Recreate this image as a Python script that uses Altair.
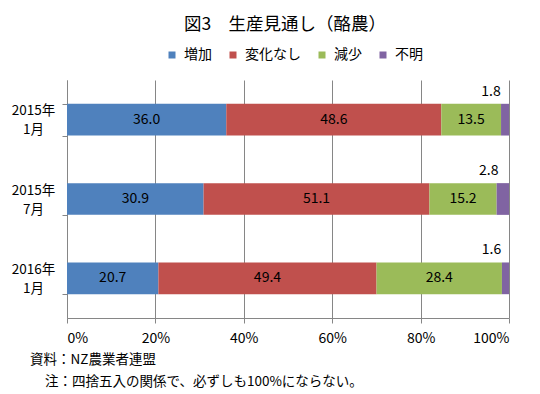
import altair as alt
import pandas as pd

categories = ["2015年\n1月", "2015年\n7月", "2016年\n1月"]
series = ["増加", "変化なし", "減少", "不明"]
colors = ["#4F81BD", "#C0504D", "#9BBB59", "#8064A2"]
increase = [36.0, 30.9, 20.7]
unchanged = [48.6, 51.1, 49.4]
decrease = [13.5, 15.2, 28.4]
unknown = [1.8, 2.8, 1.6]
x_ticks = [0, 0.2, 0.4, 0.6, 0.8, 1.0]
notes = ["資料：NZ農業者連盟", "注：四捨五入の関係で、必ずしも100%にならない。"]
title_text = "図3　生産見通し（酪農）"

rows = []
for s_i, (name, vals) in enumerate(zip(series, [increase, unchanged, decrease, unknown])):
    for c, v in zip(categories, vals):
        rows.append({"cat": c, "series": name, "order": s_i, "value": v, "label": f"{v:.1f}"})
df = pd.DataFrame(rows)

FONT = "Noto Sans CJK JP"
GRID = "#868686"

base = alt.Chart(df).transform_stack(
    stack="value", groupby=["cat"], sort=[alt.SortField("order")],
    as_=["x0", "x1"], offset="normalize"
).transform_calculate(mid="(datum.x0 + datum.x1) / 2")

y_enc = alt.Y(
    "cat:N", sort=categories, title=None,
    scale=alt.Scale(paddingInner=0.6, paddingOuter=0.3),
    axis=alt.Axis(
        labelExpr="split(datum.label, '\\n')", tickBand="extent",
        labelAlign="center", labelPadding=29, labelFontSize=13.5, labelFont=FONT,
        labelColor="black", labelLineHeight=19, labelOffset=-9, tickSize=5, grid=False,
        domainColor=GRID, tickColor=GRID,
    ),
)

x_enc = alt.X(
    "x0:Q", title=None, scale=alt.Scale(domain=[0, 1]),
    axis=alt.Axis(
        format="%", values=x_ticks, labelFontSize=14, labelFont=FONT,
        labelColor="black", labelPadding=8, tickSize=5, grid=True,
        gridColor=GRID, domainColor=GRID, tickColor=GRID,
    ),
)

bars = base.mark_bar().encode(
    x=x_enc, x2="x1:Q", y=y_enc,
    color=alt.Color(
        "series:N", scale=alt.Scale(domain=series, range=colors),
        legend=alt.Legend(
            title=None, orient="none", legendX=98, legendY=-32,
            direction="horizontal", symbolType="square", symbolSize=49,
            symbolStrokeWidth=0, labelFontSize=14, labelFont=FONT,
            labelColor="black", columnPadding=14, labelOffset=5,
        ),
    ),
)

inner = base.transform_filter("datum.order < 3").mark_text(
    fontSize=14, font=FONT, color="black"
).encode(x="mid:Q", y=alt.Y("cat:N", sort=categories), text="label:N")

outer = base.transform_filter("datum.order == 3").mark_text(
    fontSize=14, font=FONT, color="black", dx=-14, dy=-28
).encode(x="mid:Q", y=alt.Y("cat:N", sort=categories), text="label:N")

note1 = alt.Chart(pd.DataFrame({"t": [notes[0]]})).mark_text(
    align="left", baseline="middle", fontSize=13.5, font=FONT, color="black"
).encode(x=alt.value(-37), y=alt.value(280), text="t:N")
note2 = alt.Chart(pd.DataFrame({"t": [notes[1]]})).mark_text(
    align="left", baseline="middle", fontSize=13.5, font=FONT, color="black"
).encode(x=alt.value(-22), y=alt.value(302), text="t:N")

chart = alt.layer(bars, inner, outer, note1, note2).properties(
    width=442, height=238,
    title=alt.Title(title_text, fontSize=17.5, fontWeight="normal", font=FONT,
                    color="black", anchor="middle", dx=-3, offset=15),
    autosize=alt.AutoSizeParams(type="none"),
    padding={"left": 59, "top": 72, "right": 23, "bottom": 74},
).configure_view(stroke=None)

chart.save("out.html", embed_options={"renderer": "svg", "actions": False})
